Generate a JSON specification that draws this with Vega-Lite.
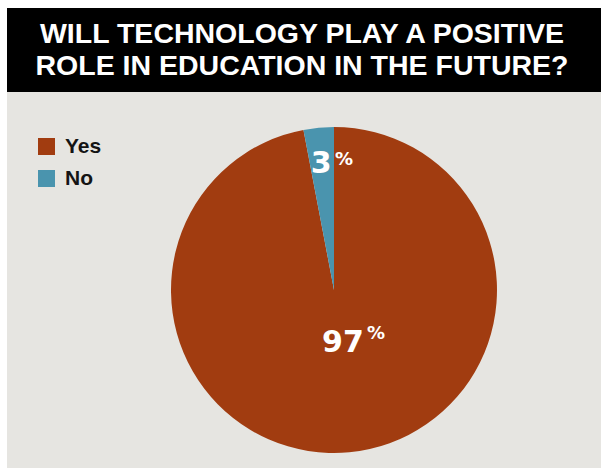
{
  "$schema": "https://vega.github.io/schema/vega-lite/v6.json",
  "background": "white",
  "padding": {"left": 7, "top": 8, "right": 0, "bottom": 0},
  "spacing": 0,
  "config": {"view": {"stroke": null}, "concat": {"spacing": 0}},
  "vconcat": [
    {
      "width": 594,
      "height": 84,
      "view": {"fill": "black", "stroke": null},
      "data": {"values": [
        {"line": 1, "text": "WILL TECHNOLOGY PLAY A POSITIVE"},
        {"line": 2, "text": "ROLE IN EDUCATION IN THE FUTURE?"}
      ]},
      "mark": {"type": "text", "font": "Liberation Sans", "fontWeight": "bold", "fontSize": 28.5, "color": "white", "baseline": "middle", "dx": -2},
      "encoding": {
        "y": {"field": "line", "type": "ordinal", "axis": null, "scale": {"padding": 0.78}},
        "text": {"field": "text"}
      }
    },
    {
      "width": 594,
      "height": 376,
      "view": {"fill": "#e6e5e1", "stroke": null},
      "data": {"values": [
        {"answer": "Yes", "value": 97, "label": "97"},
        {"answer": "No", "value": 3, "label": "3"}
      ]},
      "encoding": {
        "theta": {"field": "value", "type": "quantitative", "stack": true},
        "order": {"field": "answer", "sort": "descending"}
      },
      "layer": [
        {
          "mark": {"type": "arc", "outerRadius": 163, "xOffset": 30, "yOffset": 10},
          "encoding": {
            "color": {
              "field": "answer", "type": "nominal",
              "scale": {"domain": ["Yes", "No"], "range": ["#a13c10", "#4a94ae"]},
              "legend": {
                "title": null, "orient": "none", "legendX": 29, "legendY": 128,
                "symbolType": "square", "symbolSize": 289, "symbolStrokeWidth": 0, "symbolOpacity": 1,
                "labelFont": "Liberation Sans", "labelFontWeight": "bold", "labelFontSize": 21,
                "labelColor": "#141414", "labelOffset": 8, "rowPadding": 10, "padding": 0
              }
            }
          }
        },
        {
          "mark": {"type": "text", "radius": 53, "xOffset": 30, "yOffset": 10, "dx": 4, "font": "DejaVu Sans", "fontWeight": "bold", "fontSize": 30, "color": "white", "align": "center", "baseline": "middle"},
          "encoding": {"text": {"condition": {"test": "datum.answer === 'Yes'", "field": "label"}, "value": ""}}
        },
        {
          "mark": {"type": "text", "radius": 53, "xOffset": 30, "yOffset": 10, "dx": 37, "dy": -9, "font": "DejaVu Sans", "fontWeight": "bold", "fontSize": 18, "color": "white", "align": "center", "baseline": "middle", "text": "%"},
          "encoding": {"opacity": {"condition": {"test": "datum.answer === 'Yes'", "value": 1}, "value": 0}}
        },
        {
          "mark": {"type": "text", "radius": 126.5, "xOffset": 30, "yOffset": 10, "dx": -1, "font": "DejaVu Sans", "fontWeight": "bold", "fontSize": 30, "color": "white", "align": "center", "baseline": "middle"},
          "encoding": {"text": {"condition": {"test": "datum.answer === 'No'", "field": "label"}, "value": ""}}
        },
        {
          "mark": {"type": "text", "radius": 126.5, "xOffset": 30, "yOffset": 10, "dx": 22, "dy": -4.5, "font": "DejaVu Sans", "fontWeight": "bold", "fontSize": 18, "color": "white", "align": "center", "baseline": "middle", "text": "%"},
          "encoding": {"opacity": {"condition": {"test": "datum.answer === 'No'", "value": 1}, "value": 0}}
        }
      ]
    }
  ]
}
